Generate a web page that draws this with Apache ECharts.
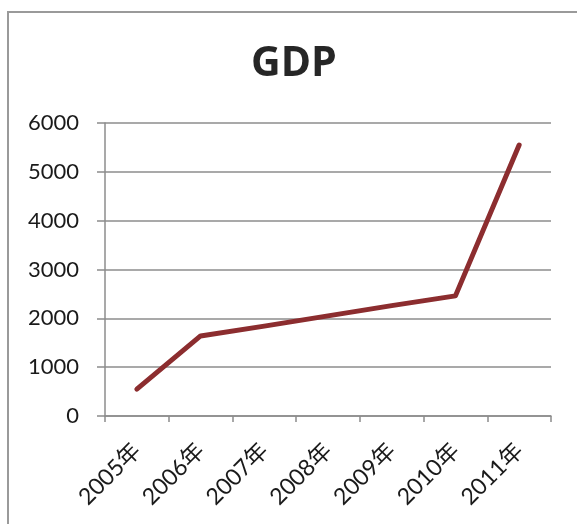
<!DOCTYPE html>
<html>
<head>
<meta charset="utf-8">
<script src="https://cdn.jsdelivr.net/npm/echarts@6/dist/echarts.min.js"></script>
<style>
  html, body { margin: 0; padding: 0; background: #fff; }
  #chart { width: 577px; height: 524px; }
</style>
</head>
<body>
<div id="chart"></div>
<script>
// GDP by year
const years = ['2005年', '2006年', '2007年', '2008年', '2009年', '2010年', '2011年'];
const gdp = [550, 1640, 1840, 2050, 2260, 2460, 5550];
const yTicks = { min: 0, max: 6000, interval: 1000 };

const chart = echarts.init(document.getElementById('chart'), null, { renderer: 'canvas' });
const labelFont = 'Lato, "Noto Sans CJK SC", sans-serif';

chart.setOption({
  backgroundColor: '#ffffff',
  animation: false,
  title: {
    text: 'GDP',
    left: 251,
    top: 44,
    padding: 0,
    textStyle: { fontFamily: '"Open Sans", sans-serif', fontSize: 41, fontWeight: 'bold', color: '#262626' }
  },
  graphic: [{
    type: 'polyline',
    shape: { points: [[8, 524], [8, 12], [577, 12]] },
    style: { stroke: '#9a9a9a', lineWidth: 2, fill: null }
  }],
  grid: { left: 105, right: 26, top: 123, bottom: 108 },
  xAxis: {
    type: 'category',
    data: years,
    boundaryGap: true,
    axisLine: { lineStyle: { color: '#8c8c8c', width: 1.5 } },
    axisTick: { show: true, length: 6, lineStyle: { color: '#8c8c8c', width: 1.5 } },
    axisLabel: {
      rotate: 45,
      margin: 31,
      fontFamily: labelFont,
      fontSize: 23,
      color: '#1a1a1a'
    }
  },
  yAxis: {
    type: 'value',
    min: yTicks.min,
    max: yTicks.max,
    interval: yTicks.interval,
    axisLine: { show: true, lineStyle: { color: '#8c8c8c', width: 1.5 } },
    axisTick: { show: true, length: 8, lineStyle: { color: '#8c8c8c', width: 1.5 } },
    splitLine: { show: true, lineStyle: { color: '#8c8c8c', width: 1.5 } },
    axisLabel: {
      margin: 26,
      fontFamily: labelFont,
      fontSize: 22,
      color: '#1a1a1a',
      formatter: function (v) { return String(v); }
    }
  },
  series: [{
    type: 'line',
    data: gdp,
    symbol: 'none',
    lineStyle: { color: '#8c2d2f', width: 5, cap: 'round', join: 'round' },
    itemStyle: { color: '#8c2d2f' }
  }]
});
</script>
</body>
</html>
